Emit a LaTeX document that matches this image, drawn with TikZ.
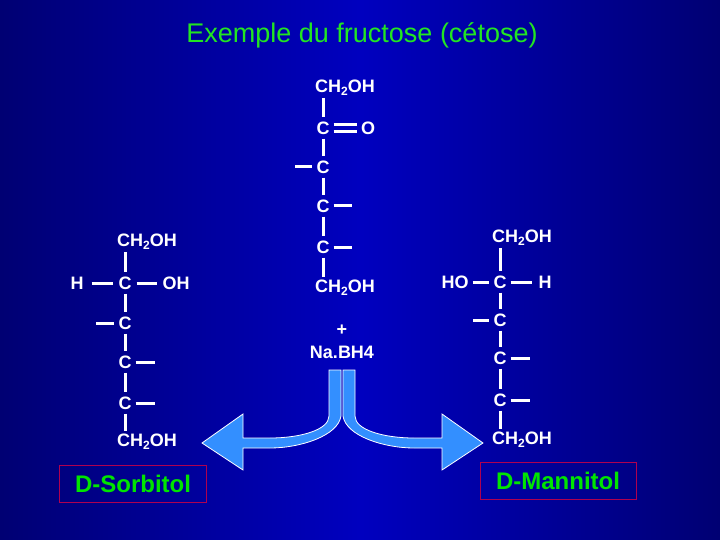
\documentclass[tikz,border=0pt]{standalone}
\usepackage{fontspec}
\setmainfont{Liberation Sans}
\begin{document}
\begin{tikzpicture}[x=1pt,y=-1pt,
  atom/.style={text=white,inner sep=0pt,font=\fontsize{18}{20}\selectfont\bfseries},
  ch/.style={atom,anchor=west},
  bond/.style={white,line width=3pt},
  lbl/.style={draw=red!45!purple!80!blue,line width=0.6pt,text=green!90!black,font=\fontsize{24}{26}\selectfont\bfseries,minimum height=37pt,inner xsep=6pt},
  arr/.style={fill=blue!55!cyan!80!white,draw=white,line width=0.8pt}]
\shade[left color=blue!45!black,right color=blue!45!black,middle color=blue!75!black] (0,0) rectangle (720,540);
\useasboundingbox (0,0) rectangle (720,540);
\node[text=green!85!white!90!black,font=\fontsize{27}{30}\selectfont] (title) at (362,35) {Exemple du fructose (cétose)};
\newcommand{\chtwo}{CH\raisebox{-0.35ex}{\fontsize{12}{12}\selectfont 2}OH}
% center chain
\node[ch] (m1) at (315,88) {\chtwo};
\node[atom] (m2) at (323,128) {C};
\node[atom] (mo) at (368,128) {O};
\node[atom] (m3) at (323,167) {C};
\node[atom] (m4) at (323,206) {C};
\node[atom] (m5) at (323,247) {C};
\node[ch] (m6) at (315,288) {\chtwo};
\draw[bond] (323,98) -- ([yshift=4pt]m2.north);
\draw[bond] ([yshift=-4pt]m2.south) -- ([yshift=4pt]m3.north);
\draw[bond] ([yshift=-4pt]m3.south) -- ([yshift=4pt]m4.north);
\draw[bond] ([yshift=-4pt]m4.south) -- ([yshift=4pt]m5.north);
\draw[bond] ([yshift=-4pt]m5.south) -- (323,277);
\draw[bond] ([xshift=4pt,yshift=3.5pt]m2.east) -- ([xshift=-4pt,yshift=3.5pt]mo.west);
\draw[bond] ([xshift=4pt,yshift=-3.5pt]m2.east) -- ([xshift=-4pt,yshift=-3.5pt]mo.west);
\coordinate (m3l) at (295,167); \coordinate (m4r) at (352,206); \coordinate (m5r) at (352,247);
\draw[bond] (m3l) -- ([xshift=-4pt]m3.west);
\draw[bond] ([xshift=4pt]m4.east) -- (m4r);
\draw[bond] ([xshift=4pt]m5.east) -- (m5r);
\node[atom] (plus) at (342,330) {+};
\node[atom] (nab) at (342,352) {Na.BH4};
% left: sorbitol
\node[ch] (s1) at (117,242) {\chtwo};
\node[atom] (sh) at (77,283) {H};
\node[atom] (s2) at (125,283) {C};
\node[atom] (soh) at (176,283) {OH};
\node[atom] (s3) at (125,323) {C};
\node[atom] (s4) at (125,362) {C};
\node[atom] (s5) at (125,403) {C};
\node[ch] (s6) at (117,442) {\chtwo};
\draw[bond] (125,252) -- ([yshift=4pt]s2.north);
\draw[bond] ([yshift=-4pt]s2.south) -- ([yshift=4pt]s3.north);
\draw[bond] ([yshift=-4pt]s3.south) -- ([yshift=4pt]s4.north);
\draw[bond] ([yshift=-4pt]s4.south) -- ([yshift=4pt]s5.north);
\draw[bond] ([yshift=-4pt]s5.south) -- (125,431);
\draw[bond] ([xshift=8pt]sh.east) -- ([xshift=-5pt]s2.west);
\draw[bond] ([xshift=5pt]s2.east) -- ([xshift=-5pt]soh.west);
\coordinate (s3l) at (96,323); \coordinate (s4r) at (155,362); \coordinate (s5r) at (155,403);
\draw[bond] (s3l) -- ([xshift=-4pt]s3.west);
\draw[bond] ([xshift=4pt]s4.east) -- (s4r);
\draw[bond] ([xshift=4pt]s5.east) -- (s5r);
\node[lbl,minimum width=147pt] (sorb) at (133,484) {D-Sorbitol};
% right: mannitol
\node[ch] (r1) at (492,238) {\chtwo};
\node[atom] (rho) at (455,282) {HO};
\node[atom] (r2) at (500,282) {C};
\node[atom] (rh) at (545,282) {H};
\node[atom] (r3) at (500,320) {C};
\node[atom] (r4) at (500,358) {C};
\node[atom] (r5) at (500,400) {C};
\node[ch] (r6) at (492,440) {\chtwo};
\draw[bond] (500,248) -- ([yshift=4pt]r2.north);
\draw[bond] ([yshift=-4pt]r2.south) -- ([yshift=4pt]r3.north);
\draw[bond] ([yshift=-4pt]r3.south) -- ([yshift=4pt]r4.north);
\draw[bond] ([yshift=-4pt]r4.south) -- ([yshift=4pt]r5.north);
\draw[bond] ([yshift=-4pt]r5.south) -- (500,429);
\draw[bond] ([xshift=4pt]rho.east) -- ([xshift=-4pt]r2.west);
\draw[bond] ([xshift=4pt]r2.east) -- ([xshift=-6pt]rh.west);
\coordinate (r3l) at (473,320); \coordinate (r4r) at (530,358); \coordinate (r5r) at (530,400);
\draw[bond] (r3l) -- ([xshift=-4pt]r3.west);
\draw[bond] ([xshift=4pt]r4.east) -- (r4r);
\draw[bond] ([xshift=4pt]r5.east) -- (r5r);
\node[lbl,minimum width=156pt] (mann) at (558,481) {D-Mannitol};
% arrows
\draw[arr] (329,370) -- (341,370) -- (341,416) .. controls (338,436) and (300,448) .. (270,448)
  -- (243,448) -- (243,470) -- (202,443) -- (243,414) -- (243,438) -- (270,438)
  .. controls (300,438) and (329,430) .. (329,416) -- cycle;
\draw[arr] (355,370) -- (343,370) -- (343,416) .. controls (346,436) and (384,448) .. (414,448)
  -- (442,448) -- (442,470) -- (483,443) -- (442,414) -- (442,438) -- (414,438)
  .. controls (384,438) and (355,430) .. (355,416) -- cycle;
\end{tikzpicture}
\end{document}
